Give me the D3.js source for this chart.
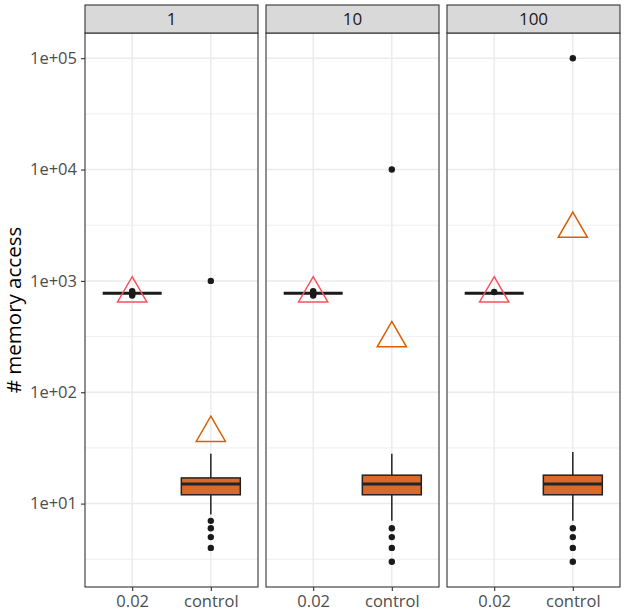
<!DOCTYPE html>
<html>
<head>
<meta charset="utf-8">
<script src="https://cdn.jsdelivr.net/npm/d3@7"></script>
<style>
  body { margin: 0; background: #fff; }
  text { font-family: "Open Sans", "Noto Sans", sans-serif; }
</style>
</head>
<body>
<svg id="chart" width="624" height="611"></svg>
<script>
// Facets and groups
var facets = ["1", "10", "100"];
var groups = ["0.02", "control"];

// 0.02 group: box collapsed on its median
var baseMedian = [775, 775, 775];
var baseOutliers = [[740, 760, 790, 810], [740, 760, 790, 810], [795]];
var baseMean = [770, 770, 770];

// control group box summaries, one per facet
var controlLower = [8, 7, 7];
var controlQ1 = [12, 12, 12];
var controlMedian = [15, 15, 15];
var controlQ3 = [17, 18, 18];
var controlUpper = [28, 28, 29];
var controlOutliers = [[1000, 7, 6, 5, 4], [10000, 6, 5, 4, 3], [100000, 6, 5, 4, 3]];
var controlMean = [43, 305, 2930];

var yTicks = [10, 100, 1000, 10000, 100000];

var meanColors = ["#F8515B", "#D95F02"];
var boxFill = ["#ffffff", "#DA6A2C"];

// Layout
var left = 85, panelW = 173, gap = 8;
var stripTop = 5, panelTop = 33, panelBottom = 587;

var svg = d3.select("#chart");

// Log y scale with 5% expansion (in log space) like ggplot
var allValues = [];
for (var i = 0; i < facets.length; i++) {
    allValues = allValues.concat(baseOutliers[i], controlOutliers[i],
        [baseMedian[i], baseMean[i], controlLower[i], controlUpper[i], controlMean[i]]);
}
var lo = Math.log10(d3.min(allValues));
var hi = Math.log10(d3.max(allValues));
var pad = (hi - lo) * 0.05;

var y = d3.scaleLog()
    .domain([Math.pow(10, lo - pad), Math.pow(10, hi + pad)])
    .range([panelBottom, panelTop]);

var x = d3.scalePoint()
    .domain(groups)
    .range([0, panelW])
    .padding(0.6);

var boxW = x.step() * 0.75;

// minor breaks are log midpoints between majors
var minorTicks = [];
for (var e = 0; e <= 5; e++) {
    var v = Math.pow(10, e + 0.5);
    if (v > y.domain()[0] && v < y.domain()[1]) minorTicks.push(v);
}

facets.forEach(function(f, fi) {
    var g = svg.append("g")
        .attr("transform", "translate(" + (left + fi * (panelW + gap)) + ",0)");

    // panel background grid
    g.selectAll(".minor")
        .data(minorTicks)
        .enter().append("line")
        .attr("x1", 0).attr("x2", panelW)
        .attr("y1", function(d) { return y(d); })
        .attr("y2", function(d) { return y(d); })
        .attr("stroke", "#EBEBEB").attr("stroke-width", 0.8);

    g.selectAll(".major")
        .data(yTicks)
        .enter().append("line")
        .attr("x1", 0).attr("x2", panelW)
        .attr("y1", function(d) { return y(d); })
        .attr("y2", function(d) { return y(d); })
        .attr("stroke", "#EBEBEB").attr("stroke-width", 1.5);

    g.selectAll(".vmajor")
        .data(groups)
        .enter().append("line")
        .attr("x1", function(d) { return x(d); })
        .attr("x2", function(d) { return x(d); })
        .attr("y1", panelTop).attr("y2", panelBottom)
        .attr("stroke", "#EBEBEB").attr("stroke-width", 1.5);

    // 0.02 group box (collapsed)
    var bx = x(groups[0]);
    g.append("line")
        .attr("x1", bx - boxW / 2).attr("x2", bx + boxW / 2)
        .attr("y1", y(baseMedian[fi])).attr("y2", y(baseMedian[fi]))
        .attr("stroke", "#1a1a1a").attr("stroke-width", 3);

    g.selectAll(".bout")
        .data(baseOutliers[fi])
        .enter().append("circle")
        .attr("cx", bx)
        .attr("cy", function(d) { return y(d); })
        .attr("r", 3.2)
        .attr("fill", "#1a1a1a");

    // control group box
    var cx = x(groups[1]);
    g.append("line")
        .attr("x1", cx).attr("x2", cx)
        .attr("y1", y(controlUpper[fi])).attr("y2", y(controlQ3[fi]))
        .attr("stroke", "#222").attr("stroke-width", 1.5);
    g.append("line")
        .attr("x1", cx).attr("x2", cx)
        .attr("y1", y(controlQ1[fi])).attr("y2", y(controlLower[fi]))
        .attr("stroke", "#222").attr("stroke-width", 1.5);
    g.append("rect")
        .attr("x", cx - boxW / 2)
        .attr("y", y(controlQ3[fi]))
        .attr("width", boxW)
        .attr("height", y(controlQ1[fi]) - y(controlQ3[fi]))
        .attr("fill", boxFill[1])
        .attr("stroke", "#222").attr("stroke-width", 1.5);
    g.append("line")
        .attr("x1", cx - boxW / 2).attr("x2", cx + boxW / 2)
        .attr("y1", y(controlMedian[fi])).attr("y2", y(controlMedian[fi]))
        .attr("stroke", "#1f262b").attr("stroke-width", 3);

    g.selectAll(".cout")
        .data(controlOutliers[fi])
        .enter().append("circle")
        .attr("cx", cx)
        .attr("cy", function(d) { return y(d); })
        .attr("r", 3.2)
        .attr("fill", "#1a1a1a");

    // means as open triangles
    var tri = d3.symbol().type(d3.symbolTriangle).size(370);
    [baseMean[fi], controlMean[fi]].forEach(function(m, gi) {
        g.append("path")
            .attr("d", tri)
            .attr("transform", "translate(" + x(groups[gi]) + "," + y(m) + ")")
            .attr("fill", "none")
            .attr("stroke", meanColors[gi])
            .attr("stroke-width", 1.5);
    });

    // panel border
    g.append("rect")
        .attr("x", 0).attr("y", panelTop)
        .attr("width", panelW).attr("height", panelBottom - panelTop)
        .attr("fill", "none").attr("stroke", "#333").attr("stroke-width", 1.1);

    // strip
    g.append("rect")
        .attr("x", 0).attr("y", stripTop)
        .attr("width", panelW).attr("height", panelTop - stripTop)
        .attr("fill", "#D9D9D9").attr("stroke", "#333").attr("stroke-width", 1.1);
    g.append("text")
        .attr("x", panelW / 2).attr("y", (stripTop + panelTop) / 2)
        .attr("dy", "0.36em")
        .attr("text-anchor", "middle")
        .attr("font-size", "17px")
        .attr("fill", "#1A1A1A")
        .text(f);

    // x axis
    var xAxis = g.append("g")
        .attr("transform", "translate(0," + panelBottom + ")")
        .call(d3.axisBottom(x).tickSize(4).tickPadding(4));
    xAxis.select(".domain").remove();
    xAxis.selectAll("line").attr("stroke", "#333").attr("stroke-width", 1.1);
    xAxis.selectAll("text")
        .attr("font-size", "16.5px")
        .attr("fill", "#4D4D4D")
        .style("font-family", "'Open Sans', sans-serif");
});

// y axis on the first panel
var yAxis = svg.append("g")
    .attr("transform", "translate(" + left + ",0)")
    .call(d3.axisLeft(y).tickValues(yTicks).tickSize(4).tickPadding(4)
        .tickFormat(function(d) { return "1e+" + d3.format("02d")(Math.round(Math.log10(d))); }));
yAxis.select(".domain").remove();
yAxis.selectAll("line").attr("stroke", "#333").attr("stroke-width", 1.1);
yAxis.selectAll("text")
    .attr("font-size", "16.5px")
    .attr("fill", "#4D4D4D")
    .style("font-family", "'Open Sans', sans-serif");

// y axis title
svg.append("text")
    .attr("transform", "translate(21," + ((panelTop + panelBottom) / 2) + ") rotate(-90)")
    .attr("text-anchor", "middle")
    .attr("font-size", "20.5px")
    .attr("fill", "#000")
    .text("# memory access");
</script>
</body>
</html>
